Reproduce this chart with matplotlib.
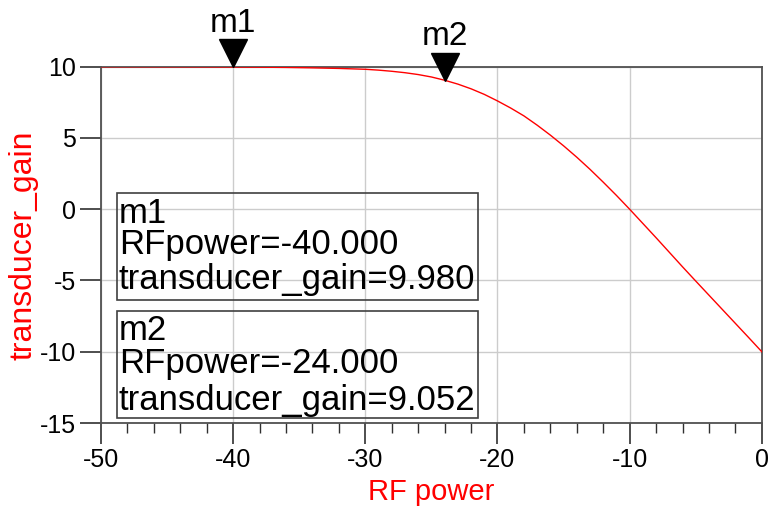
import numpy as np
import matplotlib
matplotlib.use("Agg")
import matplotlib.pyplot as plt
from matplotlib.patches import Rectangle
from matplotlib.ticker import MultipleLocator
import matplotlib.transforms as mtransforms

plt.rcParams['font.family'] = ['Liberation Sans', 'DejaVu Sans']
plt.rcParams['axes.unicode_minus'] = False

# Datos (barrido de potencia RF)
rf_power = [-50, -48, -46, -44, -42, -40, -38, -36, -34, -32, -30, -29, -28,
            -27, -26, -25, -24, -23, -22, -21, -20, -19, -18, -17, -16, -15,
            -14, -13, -12, -11, -10, -9, -8, -7, -6, -5, -4, -3, -2, -1, 0]
transducer_gain = [9.998, 9.997, 9.995, 9.992, 9.987, 9.980, 9.968, 9.95,
                   9.92, 9.88, 9.82, 9.76, 9.68, 9.58, 9.45, 9.28, 9.052,
                   8.78, 8.45, 8.06, 7.60, 7.10, 6.55, 5.90, 5.20, 4.45, 3.65,
                   2.80, 1.90, 0.97, 0.00, -1.00, -2.00, -3.02, -4.04, -5.04,
                   -6.03, -7.02, -8.01, -9.00, -10.0]

# Marcadores
marker_names = ['m1', 'm2']
marker_x = [-40.0, -24.0]
marker_y = [9.980, 9.052]

x_ticks = [-50, -40, -30, -20, -10, 0]
y_ticks = [-15, -10, -5, 0, 5, 10]

fig = plt.figure(figsize=(7.75, 5.16), dpi=100)
ax = fig.add_axes([0.1303, 0.1802, 0.8527, 0.6905])

ax.plot(rf_power, transducer_gain, color='red', lw=1.0, zorder=3)

ax.set_xlim(-50, 0)
ax.set_ylim(-15, 10)
ax.set_xticks(x_ticks)
ax.set_yticks(y_ticks)
ax.xaxis.set_minor_locator(MultipleLocator(2))
ax.grid(True, which='major', color='#cccccc', lw=1.0, zorder=0)

for s in ax.spines.values():
    s.set_color('#505050')
    s.set_linewidth(1.3)

ax.tick_params(axis='x', which='major', direction='out', length=15, width=1.2,
               color='#303030', labelsize=18, pad=3)
ax.tick_params(axis='x', which='minor', direction='out', length=7.5, width=1.0,
               color='#303030')
ax.tick_params(axis='y', which='major', direction='out', length=15, width=1.2,
               color='#303030', labelsize=18, pad=3)
ax.tick_params(axis='y', which='minor', left=False)

ax.set_xlabel('RF power', color='red', fontsize=21, labelpad=4)
ax.set_ylabel('transducer_gain', color='red', fontsize=23, labelpad=1)

# Triangulos de marcador con el vertice en el punto
tri_trans = mtransforms.offset_copy(ax.transData, fig=fig, x=0, y=9.8, units='points')
lab_trans = mtransforms.offset_copy(ax.transData, fig=fig, x=0, y=20.0, units='points')
for name, mx, my in zip(marker_names, marker_x, marker_y):
    ax.plot([mx], [my], marker='v', markersize=19.5, color='black',
            transform=tri_trans, clip_on=False, zorder=5)
    ax.text(mx, my, name, transform=lab_trans, ha='center', va='bottom',
            fontsize=24, clip_on=False)

# Cuadros de lectura de marcadores
boxes = [(0.345, 0.6447), (0.0132, 0.315)]
baselines = [(0.5605, 0.4743, 0.3752), (0.2330, 0.1395, 0.0365)]
for (b0, b1), ys, name, mx, my in zip(boxes, baselines, marker_names, marker_x, marker_y):
    ax.add_patch(Rectangle((0.0238, b0), 0.570 - 0.0238, b1 - b0,
                           transform=ax.transAxes, fill=False,
                           edgecolor='#404040', lw=1.2, zorder=4))
    lines = [name, f'RFpower={mx:.3f}', f'transducer_gain={my:.3f}']
    for yy, t in zip(ys, lines):
        ax.text(0.0272, yy, t, transform=ax.transAxes, va='baseline',
                ha='left', fontsize=25, zorder=5)

fig.savefig('out.png', dpi=100)
